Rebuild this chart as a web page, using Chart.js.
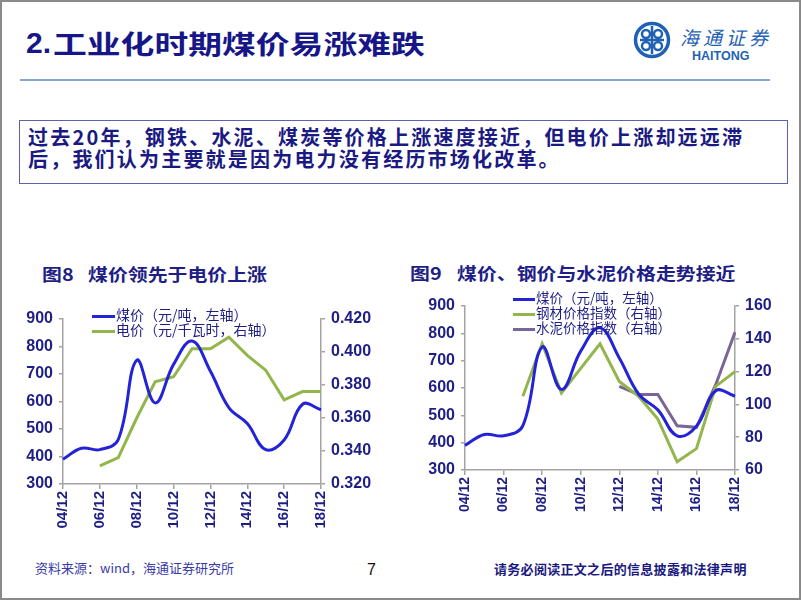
<!DOCTYPE html>
<html lang="zh-CN">
<head>
<meta charset="utf-8">
<title>工业化时期煤价易涨难跌</title>
<script src="https://cdn.jsdelivr.net/npm/chart.js@4.4.1/dist/chart.umd.min.js"></script>
<style>
  body { margin: 0; background: #fff; }
  #page { position: relative; width: 802px; height: 602px; overflow: hidden; background: #fff;
          font-family: "Noto Sans CJK SC", sans-serif; color: #1a1a82; }
  .frame { position: absolute; left: 0; top: 0; width: 797px; height: 596px; border: 2px solid #8a8a8a; }
  .abs { position: absolute; white-space: nowrap; }
  .title-num { left: 26px; top: 25px; font: bold 30px/36px "Liberation Sans", Arial, sans-serif; color: #161688; }
  .title-cn { left: 53px; top: 26px; font-size: 26px; line-height: 34px; font-weight: bold; color: #161688;
              transform: scaleX(1.3); transform-origin: left center; }
  .rule { left: 20px; top: 79px; width: 750px; height: 2px; background: #8aa4d4; }
  .box { left: 19px; top: 120px; width: 759px; height: 57px; border: 1.5px solid #5f5fae;
         padding: 5px 0 0 8px; box-sizing: content-box; font-size: 20px; line-height: 22px;
         font-weight: bold; letter-spacing: 2.2px; color: #1a1a82; }
  .ctitle { font-size: 17px; line-height: 20px; font-weight: bold; color: #1e1e86;
            transform: scaleX(1.17); transform-origin: left center; }
  .legend { font-size: 14px; line-height: 15px; color: #1e1e86; }
  .legend i { display: inline-block; width: 23px; height: 3px; vertical-align: middle; margin-right: 1px; }
  canvas { position: absolute; }
</style>
</head>
<body>
<div id="page">
  <div class="frame"></div>

  <div class="abs title-num">2.</div>
  <div class="abs title-cn">工业化时期煤价易涨难跌</div>

  <svg class="abs" style="left:632px;top:20px" width="40" height="40" viewBox="0 0 40 40">
    <circle cx="20" cy="20" r="16.5" fill="none" stroke="#1f62b4" stroke-width="3.5"/>
    <path d="M20 6 V34 M8 20 H32" stroke="#1f62b4" stroke-width="2.5"/>
    <circle cx="14" cy="14" r="4" fill="none" stroke="#1f62b4" stroke-width="2.5"/>
    <circle cx="26" cy="14" r="4" fill="none" stroke="#1f62b4" stroke-width="2.5"/>
    <circle cx="14" cy="26" r="4" fill="none" stroke="#1f62b4" stroke-width="2.5"/>
    <circle cx="26" cy="26" r="4" fill="none" stroke="#1f62b4" stroke-width="2.5"/>
  </svg>
  <div class="abs" style="left:680px;top:25px;font-size:19px;line-height:24px;font-style:italic;letter-spacing:4px;color:#1f62b4">海通证券</div>
  <div class="abs" style="left:692px;top:49px;font:bold 12.5px/14px 'Liberation Sans',Arial,sans-serif;color:#1f62b4">HAITONG</div>

  <div class="abs rule"></div>

  <div class="abs box">过去20年，钢铁、水泥、煤炭等价格上涨速度接近，但电价上涨却远远滞<br>后，我们认为主要就是因为电力没有经历市场化改革。</div>

  <div class="abs ctitle" style="left:42px;top:264px">图8</div>
  <div class="abs ctitle" style="left:88px;top:264px">煤价领先于电价上涨</div>
  <div class="abs ctitle" style="left:410px;top:263px">图9</div>
  <div class="abs ctitle" style="left:457px;top:263px">煤价、钢价与水泥价格走势接近</div>

  <canvas id="coalPowerChart" width="400" height="250" style="left:0;top:300px"></canvas>
  <canvas id="coalSteelChart" width="400" height="246" style="left:400px;top:290px"></canvas>

  <div class="abs legend" style="left:92px;top:307px">
    <div><i style="background:#2424d6"></i>煤价（元/吨，左轴）</div>
    <div><i style="background:#93b64c"></i>电价（元/千瓦时，右轴）</div>
  </div>
  <div class="abs legend" style="left:513px;top:290px;font-size:13.5px">
    <div><i style="background:#2424d6;width:22px"></i>煤价（元/吨，左轴）</div>
    <div><i style="background:#93b64c;width:22px"></i>钢材价格指数（右轴）</div>
    <div><i style="background:#7b6596;width:22px"></i>水泥价格指数（右轴）</div>
  </div>

  <div class="abs" style="left:35px;top:560px;font-size:13px;line-height:16px;color:#3b3ba8">资料来源：wind，海通证券研究所</div>
  <div class="abs" style="left:367px;top:561px;font:16px/18px 'Liberation Sans',Arial,sans-serif;color:#111">7</div>
  <div class="abs" style="left:494px;top:561px;font-size:13px;line-height:16px;font-weight:bold;letter-spacing:0.3px;color:#1a1a80">请务必阅读正文之后的信息披露和法律声明</div>
</div>

<script>
const years = ['04/12', '05/12', '06/12', '07/12', '08/12', '09/12', '10/12', '11/12',
               '12/12', '13/12', '14/12', '15/12', '16/12', '17/12', '18/12'];
const coalPrice = [390, 430, 425, 462, 750, 595, 735, 820, 710, 578, 520, 425, 460, 590, 570];
const powerPrice = [null, null, 0.331, 0.336, 0.360, 0.382, 0.385, 0.402, 0.402, 0.409, 0.398, 0.389, 0.371, 0.376, 0.376];
const steelIndex = [null, null, null, 105, 137, 107, 122, 137, 114, 105, 91, 65, 73, 111, 120];
const cementIndex = [null, null, null, null, null, null, null, null, 111, 106, 106, 87, 86, 112, 144];

const coalTicks = [300, 400, 500, 600, 700, 800, 900];
const powerTicks = [0.32, 0.34, 0.36, 0.38, 0.40, 0.42];
const indexTicks = [60, 80, 100, 120, 140, 160];

const navy = '#1e1e86';
const axisGrey = '#a3a3a3';
const blue = '#2424d6';
const green = '#93b64c';
const purple = '#7b6596';
const tickFont = "'Liberation Sans', Arial, sans-serif";

function yAxis(ticks, position, width, format) {
    return {
        position: position,
        min: ticks[0],
        max: ticks[ticks.length - 1],
        afterBuildTicks: axis => { axis.ticks = ticks.map(v => ({ value: v })); },
        afterFit: axis => { axis.width = width; },
        border: { display: true, color: axisGrey, width: 1.5 },
        grid: { drawOnChartArea: false, drawTicks: true, tickLength: 4, color: axisGrey, lineWidth: 1.5 },
        ticks: {
            color: navy,
            padding: 6,
            font: { family: tickFont, size: 16, weight: 'bold' },
            callback: format
        }
    };
}

function xAxis(fontSize) {
    return {
        afterFit: axis => { axis.height = 66; },
        border: { display: true, color: axisGrey, width: 1.5 },
        grid: {
            drawOnChartArea: false,
            drawTicks: true,
            tickLength: 5,
            lineWidth: 1.5,
            color: c => (c.index % 2 === 0 ? axisGrey : 'rgba(0,0,0,0)')
        },
        ticks: {
            autoSkip: false,
            minRotation: 90,
            maxRotation: 90,
            padding: 2,
            color: navy,
            font: { family: tickFont, size: fontSize, weight: 'bold' },
            callback: (value, index) => (index % 2 === 0 ? years[index] : '')
        }
    };
}

function line(data, color, axisId, tension) {
    return {
        data: data,
        borderColor: color,
        borderWidth: 3,
        pointRadius: 0,
        tension: tension,
        yAxisID: axisId
    };
}

function baseOptions(top, scales) {
    return {
        responsive: false,
        animation: false,
        layout: { padding: { top: top, left: 0, right: 0, bottom: 0 } },
        plugins: { legend: { display: false }, tooltip: { enabled: false } },
        scales: scales
    };
}

new Chart(document.getElementById('coalPowerChart'), {
    type: 'line',
    data: {
        labels: years,
        datasets: [
            line(coalPrice, blue, 'y', 0.4),
            line(powerPrice, green, 'y1', 0)
        ]
    },
    options: baseOptions(19, {
        x: xAxis(15),
        y: yAxis(coalTicks, 'left', 63, v => v),
        y1: yAxis(powerTicks, 'right', 79, v => v.toFixed(3))
    })
});

new Chart(document.getElementById('coalSteelChart'), {
    type: 'line',
    data: {
        labels: years,
        datasets: [
            line(coalPrice, blue, 'y', 0.4),
            line(steelIndex, green, 'y1', 0),
            line(cementIndex, purple, 'y1', 0)
        ]
    },
    options: baseOptions(16, {
        x: xAxis(14),
        y: yAxis(coalTicks, 'left', 65, v => v),
        y1: yAxis(indexTicks, 'right', 65, v => v)
    })
});
</script>
</body>
</html>
